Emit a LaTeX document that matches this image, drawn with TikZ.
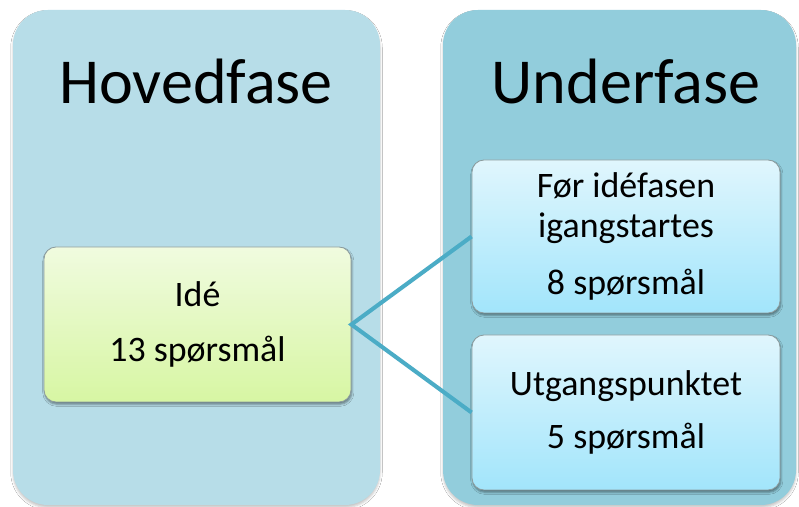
\documentclass[tikz,border=0pt]{standalone}
\usepackage{fontspec}
\setmainfont{Carlito}
\usetikzlibrary{shadows.blur}

\begin{document}
\begin{tikzpicture}[
    panel/.style={rounded corners=0.875cm, blur shadow={shadow xshift=0pt, shadow yshift=-1.8pt, shadow blur radius=1.6pt, shadow opacity=22}},
    fasebox/.style={draw=boxline, line width=0.6pt, shape=rectangle, rounded corners=0.3cm, align=center, minimum width=7.7cm, minimum height=3.85cm, inner sep=0pt, font=\fontsize{25.5}{28.5}\selectfont, blur shadow={shadow xshift=0.6pt, shadow yshift=-1.6pt, shadow blur radius=1.5pt, shadow opacity=45}},
    hovedbox/.style={fasebox, top color=ideTop, bottom color=ideBottom},
    underbox/.style={fasebox, top color=subTop, bottom color=subBottom},
    tittel/.style={anchor=base, font=\fontsize{45.6}{50}\selectfont},
    kobling/.style={draw=linkcolor, line width=2.9pt}
]
    \definecolor{hovedcolor}{HTML}{B7DDE8}
    \definecolor{undercolor}{HTML}{92CDDC}
    \definecolor{ideTop}{HTML}{F0FBDF}
    \definecolor{ideBottom}{HTML}{D7F6A3}
    \definecolor{subTop}{HTML}{E0F6FD}
    \definecolor{subBottom}{HTML}{A2E5FB}
    \definecolor{boxline}{HTML}{8C9C9E}
    \definecolor{linkcolor}{HTML}{4BACC6}
    \def\paneltop{12.425}
    \def\panelbottom{0.05}
    \useasboundingbox (0,0) rectangle (19.975,12.675);
    \fill[white] (0,0) rectangle (19.975,12.675);
    \fill[hovedcolor, panel] (0.325, \panelbottom) rectangle (9.5, \paneltop);
    \fill[undercolor, panel] (11.075, \panelbottom) rectangle (19.9, \paneltop);
    \node[tittel] (hovedfase) at (4.9, 10.075) {Hovedfase};
    \node[tittel] (underfase) at (15.65, 10.075) {Underfase};
    \node[hovedbox, minimum width=7.675cm, minimum height=3.875cm] (ide) at (4.9375, 4.5625) {Idé\\[11pt]13 spørsmål};
    \node[underbox, minimum height=3.825cm] (forfase) at (15.65, 6.7625) {Før idéfasen\\igangstartes\\[12pt]8 spørsmål};
    \node[underbox, minimum height=3.875cm] (utgang) at (15.65, 2.3625) {Utgangspunktet\\[9pt]5 spørsmål};
    \draw[kobling] (forfase.west) -- (ide.east) -- (utgang.west);
\end{tikzpicture}
\end{document}
